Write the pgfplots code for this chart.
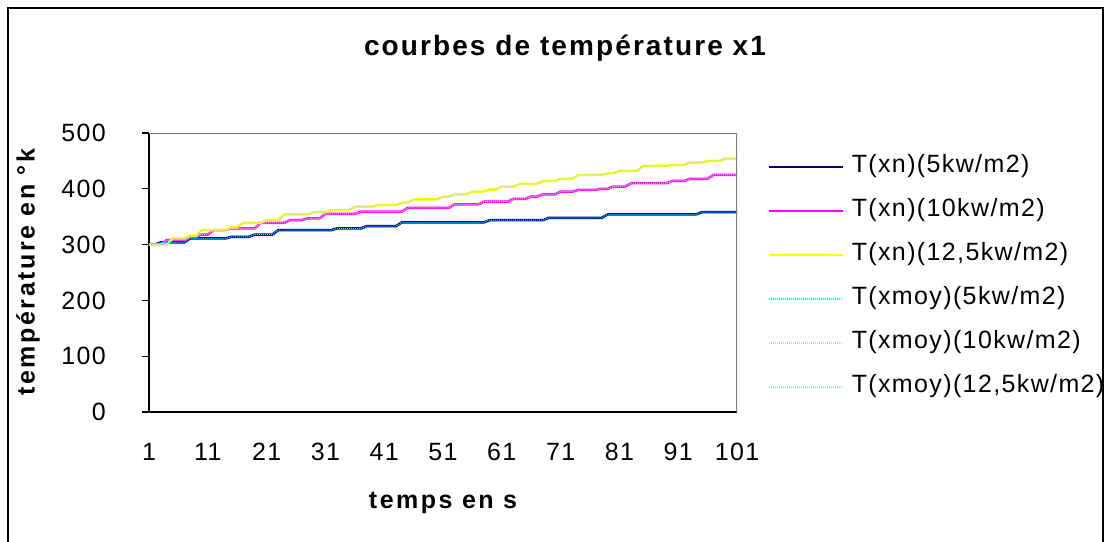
\documentclass[border=0pt]{standalone}
\usepackage{fontspec}
\setmainfont{Liberation Sans}
\newfontfamily\wideface[LetterSpace=5.5]{Liberation Sans}
\newfontfamily\widebold[LetterSpace=10]{Liberation Sans Bold}
\newfontfamily\titleface[LetterSpace=7.5]{Liberation Sans Bold}
\usepackage{pgfplots}
\usepackage{pgfplotstable}
\pgfplotsset{compat=1.18}
\definecolor{xnfive}{HTML}{000080}
\definecolor{xnten}{HTML}{FF00FF}
\definecolor{xntwelve}{HTML}{FFFF00}
\definecolor{moyfive}{HTML}{00FFFF}
\definecolor{moyten}{HTML}{D4CCDC}
\definecolor{moytwelve}{HTML}{A8D4F8}
\pgfplotstableread{
t a b c
1 300 300 300
2 300 300 300
3 304 300 300
4 304 308 300
5 304 308 311
6 304 308 311
7 304 308 311
8 311 314 316
9 311 314 316
10 311 318 326
11 311 318 326
12 311 326 326
13 311 326 326
14 311 326 326
15 314 329 331
16 314 329 331
17 314 329 339
18 314 329 339
19 318 329 339
20 318 339 339
21 318 339 344
22 318 339 344
23 326 339 344
24 326 339 354
25 326 344 354
26 326 344 354
27 326 344 354
28 326 347 354
29 326 347 358
30 326 347 358
31 326 355 358
32 326 355 362
33 329 355 362
34 329 355 362
35 329 355 362
36 329 355 368
37 329 359 368
38 333 359 368
39 333 359 368
40 333 359 371
41 333 359 371
42 333 359 371
43 333 359 371
44 340 359 375
45 340 366 375
46 340 366 381
47 340 366 381
48 340 366 381
49 340 366 381
50 340 366 381
51 340 366 386
52 340 366 386
53 340 372 390
54 340 372 390
55 340 372 390
56 340 372 395
57 340 372 395
58 340 377 395
59 344 377 399
60 344 377 399
61 344 377 404
62 344 377 404
63 344 382 404
64 344 382 409
65 344 382 409
66 344 386 409
67 344 386 409
68 344 390 414
69 348 390 414
70 348 390 414
71 348 395 418
72 348 395 418
73 348 395 418
74 348 398 425
75 348 398 425
76 348 398 425
77 348 398 425
78 348 400 425
79 354 400 428
80 354 404 428
81 354 404 432
82 354 404 432
83 354 410 432
84 354 410 432
85 354 410 441
86 354 410 441
87 354 410 441
88 354 410 441
89 354 410 441
90 354 414 443
91 354 414 443
92 354 414 443
93 354 418 447
94 354 418 447
95 358 418 447
96 358 418 450
97 358 425 450
98 358 425 450
99 358 425 454
100 358 425 454
101 358 425 454
}\datatable
\begin{document}
\begin{tikzpicture}
\useasboundingbox (0pt,0pt) rectangle (1111pt,-541pt);
\fill[white] (0pt,0pt) rectangle (1111pt,-541pt);
\draw[black, line width=1.3pt] (8pt,-560pt) -- (8pt,-8pt) -- (1103pt,-8pt) -- (1103pt,-560pt);
\begin{axis}[
  at={(149pt,-412pt)}, anchor=south west,
  width=588pt, height=279pt, scale only axis,
  xmin=1, xmax=101, ymin=0, ymax=500,
  axis x line*=bottom, axis y line*=left,
  axis line style={-, black, line width=1.2pt},
  xtick={1,11,...,101}, ytick={0,100,...,500},
  tick align=outside,
  y tick style={black, line width=1.2pt},
  major tick length=7pt,
  x tick style={draw=none},
  /pgf/number format/assume math mode=true,
  tick label style={font=\fontsize{25}{29}\wideface},
  yticklabel style={anchor=east, inner sep=0pt, xshift=-36pt},
  xticklabel style={anchor=north, inner sep=0pt, text height=18pt, text depth=0pt, yshift=-23pt},
  title={courbes de température x1},
  title style={at={(axis description cs:0.7075,1.283)}, anchor=center, font=\fontsize{28}{32}\titleface},
  xlabel={temps en s},
  xlabel style={at={(axis description cs:0.5,-0.326)}, anchor=center, font=\fontsize{25}{29}\widebold},
  ylabel={température en °k},
  ylabel style={at={(axis description cs:-0.2058,0.5018)}, anchor=center, font=\fontsize{25}{29}\widebold},
  legend image code/.code={\draw[#1, line width=1.6pt] (0pt,0pt) -- (74pt,0pt);},
  legend cell align=left,
  legend style={at={(axis description cs:1.0527,0.921)}, anchor=north west,
    draw=none, fill=none, inner sep=0pt, row sep=20pt, column sep=8pt,
    font=\fontsize{25}{29}\wideface,
    nodes={inner sep=0pt, text height=17.5pt, text depth=6.5pt}},
]
\addplot[xnfive, line width=2.5pt] table[x=t, y=a] {\datatable};
\addlegendentry{T(xn)(5kw/m2)}
\addplot[xnten, line width=2.5pt] table[x=t, y=b] {\datatable};
\addlegendentry{T(xn)(10kw/m2)}
\addplot[xntwelve, line width=2.5pt] table[x=t, y=c] {\datatable};
\addlegendentry{T(xn)(12,5kw/m2)}
\addplot[moyfive, line width=1pt, densely dotted] table[x=t, y=a] {\datatable};
\addlegendentry{T(xmoy)(5kw/m2)}
\addplot[moyten, line width=1pt, densely dotted] table[x=t, y=b] {\datatable};
\addlegendentry{T(xmoy)(10kw/m2)}
\addplot[moytwelve, line width=1pt, densely dotted] table[x=t, y=c] {\datatable};
\addlegendentry{T(xmoy)(12,5kw/m2)}
\draw[gray, line width=1.2pt] (rel axis cs:0,1) -- (rel axis cs:1,1) -- (rel axis cs:1,0);
\end{axis}
\end{tikzpicture}
\end{document}
